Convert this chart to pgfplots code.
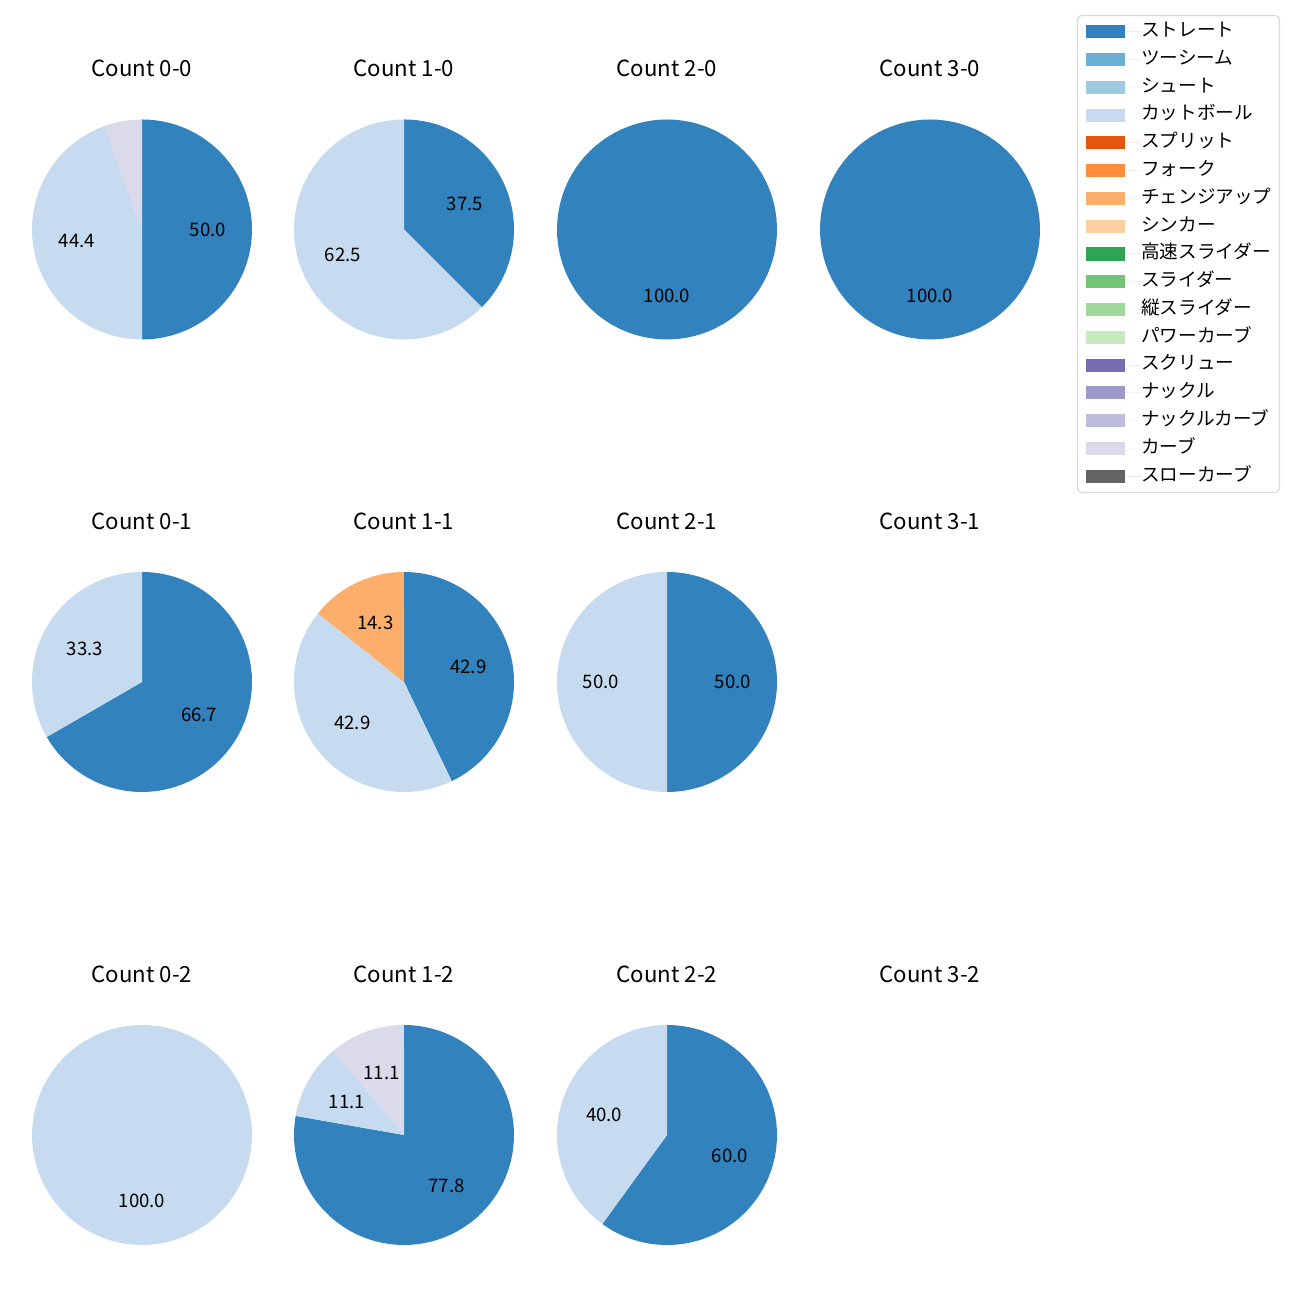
\documentclass[border=0pt]{standalone}
\usepackage{pgfplots}
\pgfplotsset{compat=1.18}
\usepackage{fontspec}
\setmainfont{Noto Sans CJK JP}
\definecolor{cA}{HTML}{3182BD}
\definecolor{cB}{HTML}{6BAED6}
\definecolor{cC}{HTML}{9ECAE1}
\definecolor{cD}{HTML}{C6DBEF}
\definecolor{cE}{HTML}{E6550D}
\definecolor{cF}{HTML}{FD8D3C}
\definecolor{cG}{HTML}{FDAE6B}
\definecolor{cH}{HTML}{FDD0A2}
\definecolor{cI}{HTML}{31A354}
\definecolor{cJ}{HTML}{74C476}
\definecolor{cK}{HTML}{A1D99B}
\definecolor{cL}{HTML}{C7E9C0}
\definecolor{cM}{HTML}{756BB1}
\definecolor{cN}{HTML}{9E9AC8}
\definecolor{cO}{HTML}{BCBDDC}
\definecolor{cP}{HTML}{DADAEB}
\definecolor{cQ}{HTML}{636363}
\newcommand\lab{\fontsize{13.4pt}{16pt}\selectfont}
\newcommand\ttl{\fontsize{16pt}{19pt}\selectfont}
% slice: start %, end %, colour, label
\newcommand{\slice}[4]{%
  \addplot[fill=#3, draw=none, domain=#1:#2, samples=90, variable=\t]
    ({cos(90-3.6*\t)},{sin(90-3.6*\t)}) -- (axis cs:0,0) -- cycle;
  \node[font=\lab, inner sep=0pt] at (axis cs:{0.6*cos(90-1.8*(#1+#2))},{0.6*sin(90-1.8*(#1+#2))}) {#4};
}
\pgfplotsset{
  pie/.style={width=198pt, height=198pt, scale only axis, anchor=center,
    xmin=-1.25, xmax=1.25, ymin=-1.25, ymax=1.25, hide axis,
    title style={at={(0.5,1)}, anchor=base, yshift=4.8pt, font=\ttl, inner sep=0pt}},
}
\begin{document}
\begin{tikzpicture}
\path[use as bounding box] (0,0) rectangle (936pt,936pt);
% Row 1
\begin{axis}[pie, at={(102.24pt,770.76pt)}, title={Count 0-0}]
\slice{0}{50}{cA}{50.0}
\slice{50}{94.444}{cD}{44.4}
\slice{94.444}{100}{cP}{}
\end{axis}
\begin{axis}[pie, at={(290.88pt,770.76pt)}, title={Count 1-0}]
\slice{0}{37.5}{cA}{37.5}
\slice{37.5}{100}{cD}{62.5}
\end{axis}
\begin{axis}[pie, at={(480.24pt,770.76pt)}, title={Count 2-0}]
\slice{0}{100}{cA}{100.0}
\end{axis}
\begin{axis}[pie, at={(669.6pt,770.76pt)}, title={Count 3-0}]
\slice{0}{100}{cA}{100.0}
\end{axis}
% Row 2
\begin{axis}[pie, at={(102.24pt,444.96pt)}, title={Count 0-1}]
\slice{0}{66.667}{cA}{66.7}
\slice{66.667}{100}{cD}{33.3}
\end{axis}
\begin{axis}[pie, at={(290.88pt,444.96pt)}, title={Count 1-1}]
\slice{0}{42.857}{cA}{42.9}
\slice{42.857}{85.714}{cD}{42.9}
\slice{85.714}{100}{cG}{14.3}
\end{axis}
\begin{axis}[pie, at={(480.24pt,444.96pt)}, title={Count 2-1}]
\slice{0}{50}{cA}{50.0}
\slice{50}{100}{cD}{50.0}
\end{axis}
\begin{axis}[pie, at={(669.6pt,444.96pt)}, title={Count 3-1}]
\end{axis}
% Row 3
\begin{axis}[pie, at={(102.24pt,118.8pt)}, title={Count 0-2}]
\slice{0}{100}{cD}{100.0}
\end{axis}
\begin{axis}[pie, at={(290.88pt,118.8pt)}, title={Count 1-2}]
\slice{0}{77.778}{cA}{77.8}
\slice{77.778}{88.889}{cD}{11.1}
\slice{88.889}{100}{cP}{11.1}
\end{axis}
\begin{axis}[pie, at={(480.24pt,118.8pt)}, title={Count 2-2}]
\slice{0}{60}{cA}{60.0}
\slice{60}{100}{cD}{40.0}
\end{axis}
\begin{axis}[pie, at={(669.6pt,118.8pt)}, title={Count 3-2}]
\end{axis}
% Legend
\begin{axis}[at={(0pt,0pt)}, anchor=south west, width=936pt, height=936pt, scale only axis,
  xmin=0, xmax=1, ymin=0, ymax=1, hide axis,
  legend image code/.code={\fill[#1, draw=none, sharp corners] (0pt,-4.7pt) rectangle (28pt,4.7pt); \path[draw=none] (0pt,0pt) -- (40pt,0pt);},
  legend style={at={(0.82846,0.98846)}, anchor=north west, draw=black!15, line width=0.8pt,
    rounded corners=3pt, fill=white, font=\lab, inner xsep=5.8pt, inner ysep=5.2pt,
    row sep=7pt, cells={anchor=west},
    nodes={inner sep=0pt, text height=10pt, text depth=3pt}},
  legend cell align=left]
\addlegendimage{fill=cA}\addlegendentry{ストレート}
\addlegendimage{fill=cB}\addlegendentry{ツーシーム}
\addlegendimage{fill=cC}\addlegendentry{シュート}
\addlegendimage{fill=cD}\addlegendentry{カットボール}
\addlegendimage{fill=cE}\addlegendentry{スプリット}
\addlegendimage{fill=cF}\addlegendentry{フォーク}
\addlegendimage{fill=cG}\addlegendentry{チェンジアップ}
\addlegendimage{fill=cH}\addlegendentry{シンカー}
\addlegendimage{fill=cI}\addlegendentry{高速スライダー}
\addlegendimage{fill=cJ}\addlegendentry{スライダー}
\addlegendimage{fill=cK}\addlegendentry{縦スライダー}
\addlegendimage{fill=cL}\addlegendentry{パワーカーブ}
\addlegendimage{fill=cM}\addlegendentry{スクリュー}
\addlegendimage{fill=cN}\addlegendentry{ナックル}
\addlegendimage{fill=cO}\addlegendentry{ナックルカーブ}
\addlegendimage{fill=cP}\addlegendentry{カーブ}
\addlegendimage{fill=cQ}\addlegendentry{スローカーブ}
\end{axis}
\end{tikzpicture}
\end{document}
